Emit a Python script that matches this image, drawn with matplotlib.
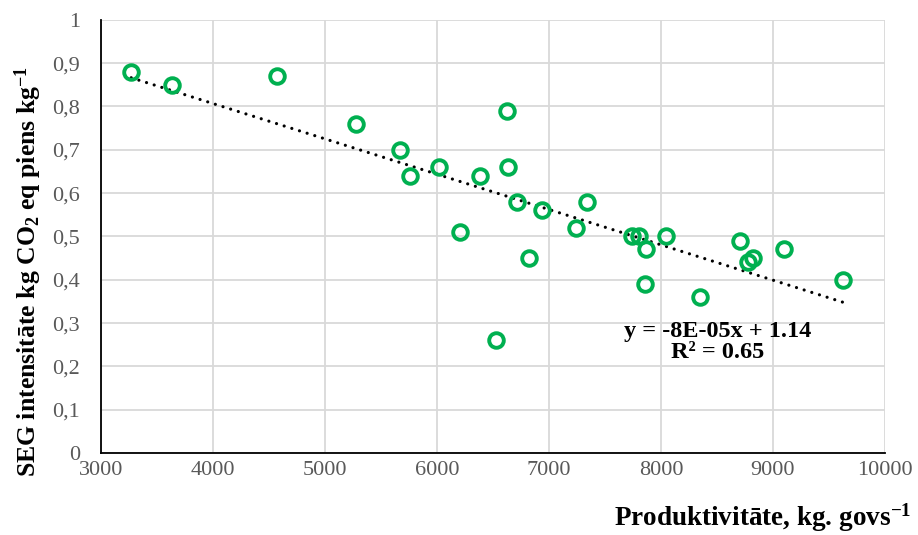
import numpy as np
import matplotlib
matplotlib.use("Agg")
import matplotlib.pyplot as plt
from matplotlib.ticker import FuncFormatter

# productivity (kg per cow) and GHG intensity (kg CO2 eq per kg milk)
produktivitate = [3270, 3635, 4570, 5280, 5670, 5760, 6015, 6380, 6622, 6630,
                  6205, 6711, 6940, 6821, 6527, 7238, 7336, 7738, 7806, 7866,
                  7860, 8045, 8348, 8705, 8824, 8780, 9098, 9628]
seg = [0.88, 0.85, 0.87, 0.76, 0.70, 0.64, 0.66, 0.64, 0.79, 0.66,
       0.51, 0.58, 0.56, 0.45, 0.26, 0.52, 0.58, 0.50, 0.50, 0.47,
       0.39, 0.50, 0.36, 0.49, 0.45, 0.44, 0.47, 0.40]

x = np.array(produktivitate)
y = np.array(seg)

plt.rcParams['font.family'] = ['Liberation Serif', 'DejaVu Serif']
plt.rcParams['mathtext.fontset'] = 'custom'
plt.rcParams['mathtext.rm'] = 'Liberation Serif'
plt.rcParams['mathtext.bf'] = 'Liberation Serif:bold'
plt.rcParams['mathtext.default'] = 'bf'

fig = plt.figure(figsize=(9.18, 5.35), dpi=100)
ax = fig.add_axes([0.110, 0.153, 0.854, 0.810])

ax.plot(x, y, linestyle='none', marker='o', markersize=10.5,
        markerfacecolor='none', markeredgecolor='#00B050',
        markeredgewidth=2.8, zorder=3)

# linear trend like excel
k, b = np.polyfit(x, y, 1)
xt = np.array([x.min(), x.max()])
ax.plot(xt, k * xt + b, color='black', linewidth=2.3,
        linestyle=(0, (0.01, 2.5)), dash_capstyle='round', zorder=2)

ax.set_xlim(3000, 10000)
ax.set_ylim(0, 1)
ax.set_xticks(np.arange(3000, 10001, 1000))
ax.set_yticks(np.arange(0, 1.01, 0.1))
ax.yaxis.set_major_formatter(FuncFormatter(
    lambda v, p: ('%g' % round(v, 1)).replace('.', ',')))

ax.grid(True, color='#d9d9d9', linewidth=1.3)
ax.set_axisbelow(True)
for s in ['top', 'right']:
    ax.spines[s].set_visible(False)
for s in ['left', 'bottom']:
    ax.spines[s].set_color('black')
    ax.spines[s].set_linewidth(1.3)

ax.tick_params(axis='both', length=0, labelsize=16, labelcolor='#595959')
ax.tick_params(axis='y', pad=15)
ax.tick_params(axis='x', pad=6)

ax.text(0.787, 0.257, 'y = -8E-05x + 1.14\nR² = 0.65',
        transform=ax.transAxes, ha='center', va='center',
        fontsize=17.5, fontweight='bold', linespacing=1.0)

fig.text(0.993, 0.032, 'Produktivitāte, kg. govs$^{-1}$',
         ha='right', va='center', fontsize=19.5, fontweight='bold')
fig.text(0.031, 0.493, 'SEG intensitāte kg CO$_{2}$ eq piens kg$^{-1}$',
         ha='center', va='center', rotation=90, fontsize=18.5, fontweight='bold')

plt.savefig('out.png', dpi=100)
